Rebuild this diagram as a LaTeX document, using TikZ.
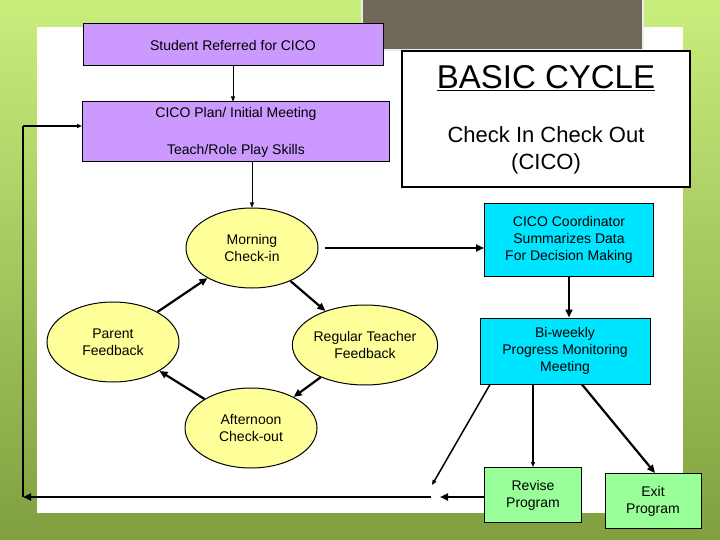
\documentclass[tikz,border=0pt]{standalone}
\usepackage{fontspec}
\setmainfont{Liberation Sans}
\usetikzlibrary{shapes.geometric,arrows.meta}
\definecolor{lilac}{HTML}{CC99FF}
\definecolor{paleyellow}{HTML}{FFFF99}
\definecolor{cicocyan}{HTML}{00E5FF}
\definecolor{palegreen}{HTML}{99FF99}
\definecolor{slate}{HTML}{706858}
\definecolor{lightlime}{HTML}{C8EE7C}
\definecolor{olive}{HTML}{80A040}
\tikzset{
  plainbox/.style={draw, line width=1pt, inner sep=0pt, font=\fontsize{14}{17}\selectfont, align=center},
  stage/.style={ellipse, draw, line width=1pt, fill=paleyellow, minimum width=132pt, minimum height=80pt, inner sep=0pt, font=\fontsize{14}{17}\selectfont, align=center},
  flow/.style={-{Triangle[length=8pt,width=7pt]}, line width=2.2pt},
  thin flow/.style={-{Triangle[length=5pt,width=4pt]}, line width=0.8pt}
}
\begin{document}
\begin{tikzpicture}[x=1pt, y=-1pt]
    \useasboundingbox (0,0) rectangle (720,540);
    % background
    \shade [top color=lightlime, bottom color=olive] (0,0) rectangle (720,540);
    \fill [white] (37,27) rectangle (683,513);
    \draw [white!85!gray, line width=2pt, fill=slate] (362,-2) rectangle (643,50);

    % boxes
    \node [plainbox, fill=lilac, minimum width=300pt, minimum height=42pt] (referred) at (233,45) {Student Referred for CICO};
    \node [plainbox, fill=lilac, minimum width=307pt, minimum height=60pt] (plan) at (236,132)
      {CICO Plan/ Initial Meeting\\[20pt]Teach/Role Play Skills};
    \node [plainbox, fill=white, line width=2.5pt, minimum width=288pt, minimum height=136pt] (title) at (546,119) {};
    \node [font=\fontsize{33}{38}\selectfont] (basic) at (546,78) {\underline{BASIC CYCLE}};
    \node [font=\fontsize{22}{27}\selectfont, align=center] (cico) at (546,150) {Check In Check Out\\(CICO)};

    % daily loop
    \node [stage] (morning) at (252,248) {Morning\\Check-in};
    \node [stage] (teacher) at (365,345) {Regular Teacher\\Feedback};
    \node [stage] (afternoon) at (251,428) {Afternoon\\Check-out};
    \node [stage] (parent) at (113,342) {Parent\\Feedback};

    % decision boxes
    \node [plainbox, fill=cicocyan, minimum width=169pt, minimum height=72pt] (coord) at (569,240)
      {CICO Coordinator\\Summarizes Data\\For Decision Making};
    \node [plainbox, fill=cicocyan, minimum width=170pt, minimum height=66pt] (meeting) at (565,351)
      {Bi-weekly\\Progress Monitoring\\Meeting};
    \node [plainbox, fill=palegreen, minimum width=97pt, minimum height=55pt] (revise) at (533,495) {Revise\\Program};
    \node [plainbox, fill=palegreen, minimum width=96pt, minimum height=55pt] (exit) at (653,501) {Exit\\Program};

    \coordinate (gap) at (432,485);
    \coordinate (joint) at (431,497);
    \coordinate (corner) at (23,497);
    \coordinate (up) at (23,126);

    % connectors
    \draw [thin flow] (referred) -- (referred |- plan.north);
    \draw [thin flow] (plan.south -| morning) -- (morning);
    \draw [flow] ([xshift=6pt]morning.east) -- (coord.west |- morning.east);
    \draw [flow] (morning) -- (teacher);
    \draw [flow] (teacher) -- (afternoon);
    \draw [flow] (afternoon) -- (parent);
    \draw [flow] (parent) -- (morning);
    \draw [flow] (coord) -- (coord |- meeting.north);
    \draw [thin flow, line width=1.5pt] (meeting.south -| 490,0) -- (gap);
    \draw [thin flow, line width=1.5pt] (meeting.south -| revise) -- (revise);
    \draw [flow] (meeting.south -| 582,0) -- (exit.north -| 655,0);
    \draw [flow] (revise.west |- joint) -- (440,497);
    \draw [flow] (joint) -- (corner);
    \draw [line width=2pt] (corner) -- (up);
    \draw [thin flow, line width=1.5pt] (up) -- (plan.west |- up);
\end{tikzpicture}
\end{document}
